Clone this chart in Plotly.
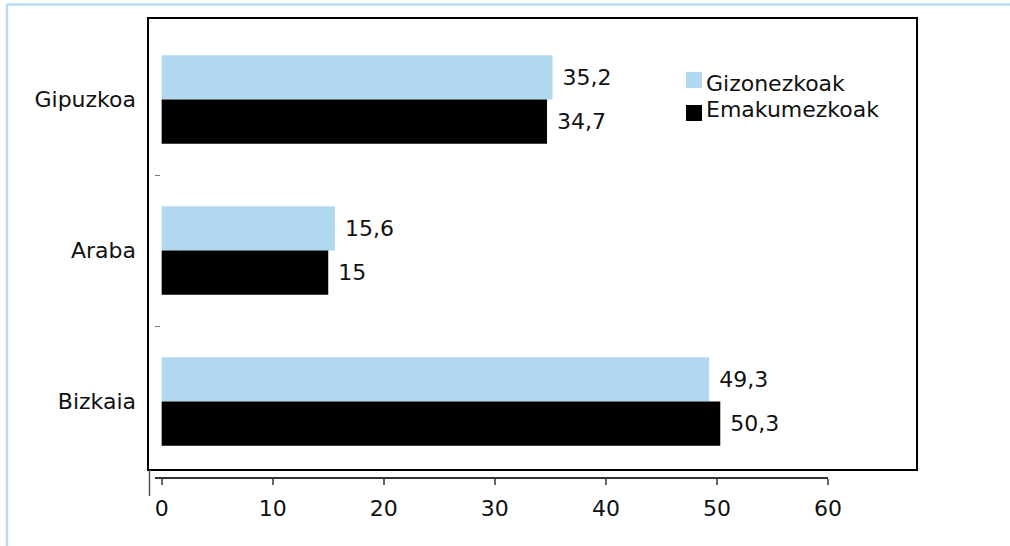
import plotly.graph_objects as go

categories = ["Gipuzkoa", "Araba", "Bizkaia"]
series_names = ["Gizonezkoak", "Emakumezkoak"]
gizonezkoak = [35.2, 15.6, 49.3]
emakumezkoak = [34.7, 15.0, 50.3]
x_ticks = [0, 10, 20, 30, 40, 50, 60]
colors = ["#b0d8f1", "#000000"]

W, H = 1010, 546
L, R, T, B = 155, 828, 24, 477  # plot area in pixels


def px(x):
    return (x - L) / (R - L)


def py(y):
    return (B - y) / (B - T)


def fmt(v):
    s = ("%g" % v)
    return " " + s.replace(".", ",")


FONT = "DejaVu Sans, Verdana, sans-serif"
FS = 22

fig = go.Figure()
for name, vals, col in zip(series_names, [gizonezkoak, emakumezkoak], colors):
    fig.add_trace(go.Bar(
        y=categories, x=vals, name=name, orientation="h",
        marker=dict(color=col, line=dict(width=0)),
        text=[fmt(v) for v in vals], textposition="outside",
        textfont=dict(size=FS, color="#111111", family=FONT),
        constraintext="none", cliponaxis=False, showlegend=False,
        hoverinfo="skip",
    ))

shapes = [
    # outer light-blue frame (left and top)
    dict(type="line", xref="paper", yref="paper", x0=px(7), x1=px(7), y0=py(4), y1=py(W), line=dict(color="#b6dcf2", width=2.5)),
    dict(type="line", xref="paper", yref="paper", x0=px(7), x1=px(1012), y0=py(4.5), y1=py(4.5), line=dict(color="#b6dcf2", width=2.5)),
    # black plot box
    dict(type="rect", xref="paper", yref="paper", x0=px(148), x1=px(917), y0=py(470), y1=py(18), line=dict(color="#000000", width=2), fillcolor="rgba(0,0,0,0)", layer="above"),
    # short vertical stub under the box
    dict(type="line", xref="paper", yref="paper", x0=px(149.5), x1=px(149.5), y0=py(470), y1=py(496), line=dict(color="#555555", width=1.5)),
]

annotations = []
leg_y = [80, 113]
txt_y = [83, 110]
for i, (name, col) in enumerate(zip(series_names, colors)):
    shapes.append(dict(type="rect", xref="paper", yref="paper", x0=px(686), x1=px(702),
                       y0=py(leg_y[i] + 8), y1=py(leg_y[i] - 8), fillcolor=col, line=dict(width=0)))
    annotations.append(dict(xref="paper", yref="paper", x=px(704), y=py(txt_y[i]), text=name,
                            showarrow=False, xanchor="left", yanchor="middle",
                            font=dict(size=FS, color="#111111", family=FONT)))

fig.update_layout(
    width=W, height=H,
    margin=dict(l=L, r=W - R, t=T, b=H - B, pad=0),
    paper_bgcolor="white", plot_bgcolor="white",
    barmode="group", bargap=0.415, bargroupgap=0,
    font=dict(family=FONT, size=FS, color="#111111"),
    shapes=shapes, annotations=annotations,
    showlegend=False,
    xaxis=dict(range=[-0.6, 60], tickvals=x_ticks, ticktext=[str(t) for t in x_ticks],
               showgrid=False, zeroline=False, showline=True, linecolor="#333333", linewidth=1.5,
               ticks="outside", ticklen=6, tickcolor="#666666", tickwidth=1.5,
               ticklabelstandoff=5,
               tickfont=dict(size=FS, color="#111111"), fixedrange=True),
    yaxis=dict(categoryorder="array", categoryarray=categories, autorange="reversed",
               showgrid=False, zeroline=False, showline=False,
               ticks="inside", tickson="boundaries", ticklen=5, tickcolor="#777777", tickwidth=1,
               ticklabelstandoff=18, tickfont=dict(size=FS, color="#111111"), fixedrange=True),
)

fig.write_html("out.html", config={"displayModeBar": False},
               post_script="document.body.style.margin='0';document.body.style.overflow='hidden';")
